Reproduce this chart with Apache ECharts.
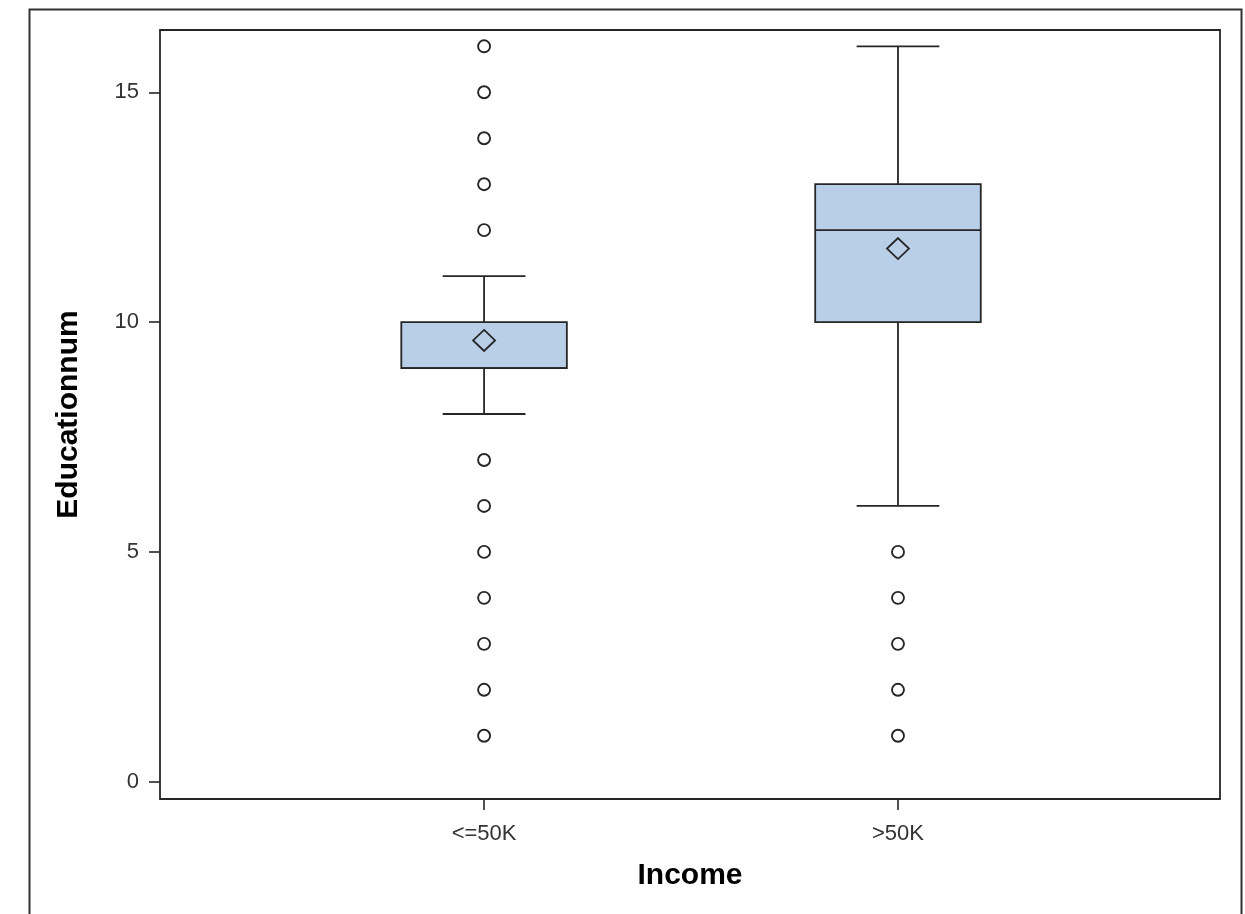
<!DOCTYPE html>
<html>
<head>
<meta charset="utf-8">
<script src="https://cdn.jsdelivr.net/npm/echarts@6/dist/echarts.min.js"></script>
<style>
html,body{margin:0;padding:0;background:#fff;}
#chart{width:1245px;height:914px;}
</style>
</head>
<body>
<div id="chart"></div>
<script>
// ---- data ----
const categories = ['<=50K', '>50K'];
const whiskerLow = [8, 6];
const q1 = [9, 10];
const median = [9, 12];
const q3 = [10, 13];
const whiskerHigh = [11, 16];
const means = [9.6, 11.6];
const outliers = [
  [1, 2, 3, 4, 5, 6, 7, 12, 13, 14, 15, 16],
  [1, 2, 3, 4, 5]
];
const yTicks = [0, 5, 10, 15];
const xTitle = 'Income';
const yTitle = 'Educationnum';

// ---- build ----
const boxData = categories.map((c, i) => [i, whiskerLow[i], q1[i], median[i], q3[i], whiskerHigh[i]]);
const meanData = categories.map((c, i) => [i, means[i]]);
const outlierData = [];
outliers.forEach((arr, i) => arr.forEach(v => outlierData.push([i, v])));

const lineColor = '#262626';
const boxFill = '#b9cee7';
const BOX_HALF = 0.2, CAP_HALF = 0.1;
const font = '"Liberation Sans", Arial, sans-serif';

function renderBox(params, api) {
  const x = api.value(0);
  const lo = api.coord([x, api.value(1)]);
  const pq1 = api.coord([x, api.value(2)]);
  const pmed = api.coord([x, api.value(3)]);
  const pq3 = api.coord([x, api.value(4)]);
  const hi = api.coord([x, api.value(5)]);
  const left = api.coord([x - BOX_HALF, 0])[0];
  const right = api.coord([x + BOX_HALF, 0])[0];
  const capL = api.coord([x - CAP_HALF, 0])[0];
  const capR = api.coord([x + CAP_HALF, 0])[0];
  const ls = {stroke: lineColor, lineWidth: 1.8, fill: null};
  return {
    type: 'group',
    children: [
      {type: 'line', shape: {x1: lo[0], y1: lo[1], x2: pq1[0], y2: pq1[1]}, style: ls},
      {type: 'line', shape: {x1: pq3[0], y1: pq3[1], x2: hi[0], y2: hi[1]}, style: ls},
      {type: 'line', shape: {x1: capL, y1: lo[1], x2: capR, y2: lo[1]}, style: ls},
      {type: 'line', shape: {x1: capL, y1: hi[1], x2: capR, y2: hi[1]}, style: ls},
      {type: 'rect', shape: {x: left, y: pq3[1], width: right - left, height: pq1[1] - pq3[1]},
        style: {fill: boxFill, stroke: lineColor, lineWidth: 1.8}},
      {type: 'line', shape: {x1: left, y1: pmed[1], x2: right, y2: pmed[1]}, style: ls}
    ]
  };
}

const chart = echarts.init(document.getElementById('chart'), null, {renderer: 'canvas'});
chart.setOption({
  backgroundColor: '#fff',
  animation: false,
  graphic: [{
    type: 'rect',
    shape: {x: 29.5, y: 9.5, width: 1212, height: 1000},
    style: {fill: null, stroke: '#333', lineWidth: 2},
    z: 100
  }],
  grid: {
    left: 160, top: 30, width: 1060, height: 769,
    show: true, borderColor: lineColor, borderWidth: 1.8, backgroundColor: '#fff'
  },
  xAxis: {
    type: 'value',
    min: -0.783, max: 1.778,
    splitLine: {show: false},
    axisLine: {show: false, onZero: false},
    axisTick: {show: true, length: 11, customValues: [0, 1], lineStyle: {color: lineColor, width: 1.6}},
    axisLabel: {
      customValues: [0, 1], margin: 24,
      formatter: v => categories[Math.round(v)] || '',
      fontFamily: font, fontSize: 22, color: '#333'
    },
    name: xTitle, nameLocation: 'middle', nameGap: 62,
    nameTextStyle: {fontFamily: font, fontSize: 30, fontWeight: 'bold', color: '#000'}
  },
  yAxis: {
    type: 'value',
    min: -0.376, max: 16.355,
    splitLine: {show: false},
    axisLine: {show: false, onZero: false},
    axisTick: {show: true, length: 11, customValues: yTicks, lineStyle: {color: lineColor, width: 1.6}},
    axisLabel: {
      customValues: yTicks, margin: 21,
      fontFamily: font, fontSize: 22, color: '#333'
    },
    name: yTitle, nameLocation: 'middle', nameGap: 76, nameRotate: 90,
    nameTextStyle: {fontFamily: font, fontSize: 30, fontWeight: 'bold', color: '#000'}
  },
  series: [
    {
      type: 'custom', renderItem: renderBox, data: boxData,
      encode: {x: 0, y: [1, 2, 3, 4, 5]}, z: 2, silent: true
    },
    {
      type: 'scatter', data: meanData, symbol: 'diamond', symbolSize: [22, 21],
      itemStyle: {color: 'rgba(0,0,0,0)', borderColor: lineColor, borderWidth: 1.8, opacity: 1},
      z: 3, silent: true
    },
    {
      type: 'scatter', data: outlierData, symbol: 'circle', symbolSize: 12,
      itemStyle: {color: '#fff', borderColor: lineColor, borderWidth: 1.9, opacity: 1},
      z: 3, silent: true
    }
  ]
});
</script>
</body>
</html>
